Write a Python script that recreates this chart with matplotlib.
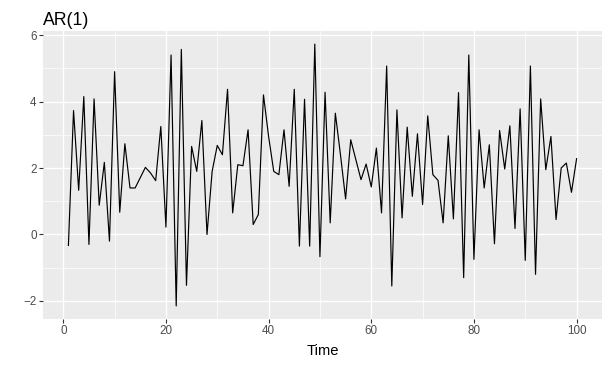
import matplotlib
matplotlib.use("Agg")
import matplotlib.pyplot as plt
import numpy as np

plt.rcParams['font.family'] = ['Liberation Sans', 'DejaVu Sans']

time = list(range(1, 101))
values = [
    -0.33, 3.73, 1.33, 4.15, -0.30, 4.08, 0.88, 2.17, -0.20, 4.90,
    0.67, 2.73, 1.40, 1.40, 1.71, 2.02, 1.85, 1.62, 3.25, 0.22,
    5.40, -2.15, 5.57, -1.53, 2.65, 1.90, 3.43, 0.00, 1.90, 2.68,
    2.40, 4.37, 0.65, 2.10, 2.07, 3.15, 0.30, 0.60, 4.20, 2.95,
    1.90, 1.80, 3.15, 1.45, 4.37, -0.35, 4.07, -0.35, 5.73, -0.67,
    4.28, 0.35, 3.65, 2.40, 1.07, 2.85, 2.25, 1.65, 2.12, 1.43,
    2.60, 0.65, 5.07, -1.55, 3.75, 0.50, 3.23, 1.15, 3.03, 0.90,
    3.57, 1.80, 1.63, 0.35, 2.97, 0.47, 4.27, -1.30, 5.40, -0.75,
    3.15, 1.40, 2.70, -0.28, 3.13, 1.97, 3.27, 0.18, 3.78, -0.78,
    5.07, -1.20, 4.08, 1.95, 2.95, 0.45, 2.00, 2.15, 1.27, 2.28,
]
x_ticks = [0, 20, 40, 60, 80, 100]
x_minor = [10, 30, 50, 70, 90]
y_ticks = [-2, 0, 2, 4, 6]
y_minor = [-1, 1, 3, 5]
title = "AR(1)"
xlabel = "Time"

W, H = 610, 365
fig = plt.figure(figsize=(W / 100, H / 100), dpi=100)
left, right, top, bottom = 43, 602, 31, 319
ax = fig.add_axes([left / W, 1 - bottom / H, (right - left) / W, (bottom - top) / H])
ax.set_facecolor('#EBEBEB')
for s in ax.spines.values():
    s.set_visible(False)

xmin, xmax = min(time), max(time)
dx = (xmax - xmin) * 0.05
ax.set_xlim(xmin - dx, xmax + dx)
ymin, ymax = min(values), max(values)
dy = (ymax - ymin) * 0.05
ax.set_ylim(ymin - dy, ymax + dy)

ax.set_xticks(x_ticks)
ax.set_xticks(x_minor, minor=True)
ax.set_yticks(y_ticks)
ax.set_yticks(y_minor, minor=True)
ax.grid(which='major', color='white', linewidth=1.0)
ax.grid(which='minor', color='white', linewidth=0.5)
ax.set_axisbelow(True)
ax.tick_params(which='major', length=2.6, width=0.8, color='#333333',
               labelcolor='#4D4D4D', labelsize=8.4, pad=2)
ax.tick_params(which='minor', length=0)

ax.plot(time, values, color='black', linewidth=0.85)

fig.text((left + right) / 2 / W, 1 - 355 / H, xlabel, fontsize=10.6,
         color='black', ha='center', va='baseline')
fig.text(left / W, 1 - 25 / H, title, fontsize=12.7, color='black',
         ha='left', va='baseline')

fig.savefig('out.png', dpi=100)
